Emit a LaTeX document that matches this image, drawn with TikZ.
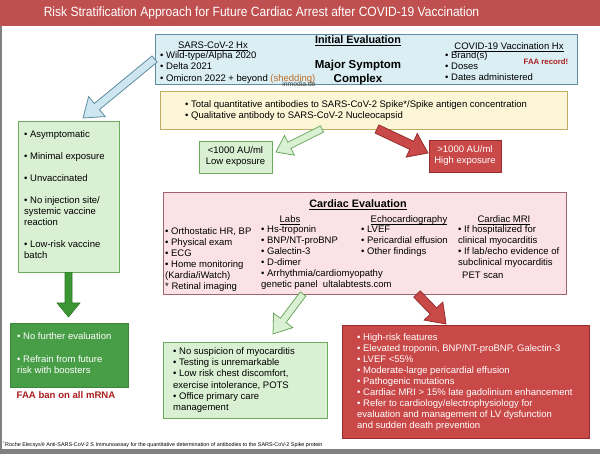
\documentclass[tikz,border=0pt]{standalone}
\usepackage{fontspec}
\setmainfont{Liberation Sans}
\newfontfamily\titlefont{Liberation Sans}[FakeStretch=0.9]
\usetikzlibrary{positioning,calc}

\definecolor{barred}{RGB}{192,80,80}
\definecolor{iefill}{RGB}{218,238,244}
\definecolor{iedraw}{RGB}{95,140,160}
\definecolor{blfill}{RGB}{205,230,240}
\definecolor{yelfill}{RGB}{252,246,214}
\definecolor{yeldraw}{RGB}{190,172,100}
\definecolor{lgfill}{RGB}{217,240,211}
\definecolor{lgdraw}{RGB}{108,170,95}
\definecolor{dgfill}{RGB}{72,158,70}
\definecolor{dgarrow}{RGB}{58,150,50}
\definecolor{rdfill}{RGB}{201,72,72}
\definecolor{rddraw}{RGB}{150,45,45}
\definecolor{pkfill}{RGB}{250,226,230}
\definecolor{pkdraw}{RGB}{160,100,110}
\definecolor{faared}{RGB}{170,30,30}
\definecolor{shedcol}{RGB}{190,110,40}
\definecolor{framegray}{RGB}{128,128,128}

% underline just under the baseline
\newcommand\hdul[1]{\setbox0\hbox{#1}\rlap{\rule[-1.6pt]{\wd0}{0.55pt}}\box0}

% fat block arrow: style, from, to, half shaft, half head, head length
\newcommand\fatarrow[6]{%
  \path[#1] let \p1=(#2), \p2=(#3), \n1={atan2(\y2-\y1,\x2-\x1)} in
    ($(\p1)+(\n1-90:#4)$) -- ($(\p2)+(\n1+180:#6)+(\n1-90:#4)$)
    -- ($(\p2)+(\n1+180:#6)+(\n1-90:#5)$) -- (\p2)
    -- ($(\p2)+(\n1+180:#6)+(\n1+90:#5)$) -- ($(\p2)+(\n1+180:#6)+(\n1+90:#4)$)
    -- ($(\p1)+(\n1+90:#4)$) -- cycle;}

\begin{document}
\begin{tikzpicture}[x=1pt, y=-1pt, font=\fontsize{9.5}{11}\selectfont]
  \tikzstyle{box} = [rectangle, draw, line width=0.8pt, inner sep=0pt];
  \tikzstyle{txt} = [inner sep=0pt, align=left, anchor=north west];
  \tikzstyle{sub} = [inner sep=0pt, anchor=base];
  \tikzstyle{head} = [sub, font=\fontsize{10.8}{12}\selectfont\bfseries];
  \tikzstyle{lgarrow} = [fill=lgfill, draw=lgdraw, line width=0.8pt];
  \tikzstyle{rdarrow} = [fill=rdfill, draw=rddraw, line width=0.8pt];
  \tikzstyle{blarrow} = [fill=blfill, draw=iedraw, line width=0.8pt];
  \tikzstyle{dgarr} = [fill=dgarrow, draw=dgarrow!80!black, line width=0.6pt];

  \useasboundingbox (0,0) rectangle (600,454);
  \fill[white] (0,0) rectangle (600,454);

  % frame and title bar
  \fill[barred] (0,0) rectangle (600,26);
  \node [inner sep=0pt, text=white, font=\titlefont\fontsize{13.4}{16}\selectfont] (title) at (261.5,13)
    {Risk Stratification Approach for Future Cardiac Arrest after COVID-19 Vaccination};
  \fill[framegray] (0,26) rectangle (1.6,450);
  \fill[framegray] (0,449) rectangle (600,454);

  % boxes
  \node [box, fill=iefill, draw=iedraw, minimum width=422pt, minimum height=50pt] (ie) at (366,59) {};
  \node [box, fill=yelfill, draw=yeldraw, minimum width=407pt, minimum height=38pt] (yel) at (363.5,110) {};
  \node [box, fill=lgfill, draw=lgdraw, minimum width=73pt, minimum height=32pt, align=center] (low) at (235.5,157) {<1000 AU/ml\\Low exposure};
  \node [box, fill=rdfill, draw=rddraw, minimum width=72pt, minimum height=32pt, align=center, text=white] (high) at (465,156) {>1000 AU/ml\\High exposure};
  \node [box, fill=lgfill, draw=lgdraw, minimum width=101pt, minimum height=151pt] (asym) at (68.5,196.5) {};
  \node [box, fill=dgfill, draw=dgfill!85!black, minimum width=118pt, minimum height=64pt] (nofur) at (69,355) {};
  \node [box, fill=pkfill, draw=pkdraw, minimum width=403pt, minimum height=102pt] (card) at (364.5,243) {};
  \node [box, fill=lgfill, draw=lgdraw, minimum width=164pt, minimum height=76pt] (nosus) at (245,380) {};
  \node [box, fill=rdfill, draw=rddraw, minimum width=247pt, minimum height=113pt] (hirisk) at (465.5,381.5) {};

  % initial evaluation
  \node [head] (iehead) at (358,44) {\hdul{Initial Evaluation}};
  \node [inner sep=0pt, align=center, font=\fontsize{11.5}{14}\selectfont\bfseries] (major) at (358,73) {Major Symptom\\Complex};
  \node [sub] (sarshx) at (213,48.5) {\hdul{SARS-CoV-2 Hx}};
  \node [txt, font=\fontsize{9.5}{11.5}\selectfont] (sarslist) at (160,51)
    {• Wild-type/Alpha 2020\\• Delta 2021\\• Omicron 2022 + beyond {\color{shedcol}(shedding)}};
  \node [inner sep=0pt, text=black!75, font=\fontsize{6.8}{7}\selectfont] (wm1) at (299,84.5) {inmodia.de};
  \node [sub] (vacchx) at (509,49.5) {\hdul{COVID-19 Vaccination Hx}};
  \node [txt] (vacclist) at (445,51.5) {• Brand(s)\\• Doses\\• Dates administered};
  \node [inner sep=0pt, text=faared, font=\fontsize{7.8}{9}\selectfont\bfseries] (faarec) at (546,62) {FAA record!};

  % antibodies
  \node [txt, font=\fontsize{9.5}{10.5}\selectfont] (ablist) at (185,100.5)
    {• Total quantitative antibodies to SARS-CoV-2 Spike*/Spike antigen concentration\\• Qualitative antibody to SARS-CoV-2 Nucleocapsid};

  % low risk column
  \node [txt] (asymlist) at (24,130.5)
    {• Asymptomatic\\[11pt]• Minimal exposure\\[11pt]• Unvaccinated\\[11pt]• No injection site/\\systemic vaccine\\reaction\\[11pt]• Low-risk vaccine\\batch};
  \node [txt, text=white] (nofurlist) at (17,332.5)
    {• No further evaluation\\[12pt]• Refrain from future\\risk with boosters};
  \node [inner sep=0pt, text=faared, font=\fontsize{9.6}{10}\selectfont\bfseries] (faaban) at (66,395) {FAA ban on all mRNA};

  % cardiac evaluation
  \node [head] (cardhead) at (358,208) {\hdul{Cardiac Evaluation}};
  \node [sub] (labs) at (290,222.5) {\hdul{Labs}};
  \node [sub] (echo) at (409,222.5) {\hdul{Echocardiography}};
  \node [sub] (mri) at (504,222.5) {\hdul{Cardiac MRI}};
  \node [txt] (clinlist) at (165,227.5)
    {• Orthostatic HR, BP\\• Physical exam\\• ECG\\• Home monitoring\\(Kardia/iWatch)\\* Retinal imaging};
  \node [txt] (labslist) at (261,225.5)
    {• Hs-troponin\\• BNP/NT-proBNP\\• Galectin-3\\• D-dimer\\• Arrhythmia/cardiomyopathy\\genetic panel\ \ ultalabtests.com};
  \node [txt] (echolist) at (361,225.5) {• LVEF\\• Pericardial effusion\\• Other findings};
  \node [txt] (mrilist) at (458,225.5)
    {• If hospitalized for\\clinical myocarditis\\• If lab/echo evidence of\\subclinical myocarditis};
  \node [txt] (pet) at (462,271.5) {PET scan};

  % outcomes
  \node [txt, font=\fontsize{9.5}{11.2}\selectfont] (nosuslist) at (173,347.5)
    {• No suspicion of myocarditis\\• Testing is unremarkable\\• Low risk chest discomfort,\\exercise intolerance, POTS\\• Office primary care\\management};
  \node [txt, text=white] (hirisklist) at (357,333.5)
    {• High-risk features\\• Elevated troponin, BNP/NT-proBNP, Galectin-3\\• LVEF <55\%\\• Moderate-large pericardial effusion\\• Pathogenic mutations\\• Cardiac MRI > 15\% late gadolinium enhancement\\• Refer to cardiology/electrophysiology for\\evaluation and management of LV dysfunction\\and sudden death prevention};

  \node [anchor=west, inner sep=0pt, font=\fontsize{5.4}{6}\selectfont] (foot) at (3,445)
    {\textsuperscript{*}Roche Elecsys® Anti-SARS-CoV-2 S Immunoassay for the quantitative determination of antibodies to the SARS-CoV-2 Spike protein};

  % arrow ends
  \coordinate (asymTip) at (83,118);
  \coordinate (yelL) at (322,129);
  \coordinate (lowTip) at (276,152);
  \coordinate (yelR) at (377,129);
  \coordinate (highTip) at (428,153);
  \coordinate (nofurTip) at (68.5,317);
  \coordinate (cardL) at (303,294);
  \coordinate (nosusTip) at (273,334);
  \coordinate (cardR) at (417,294);
  \coordinate (hiriskTip) at (446,324);

  \fatarrow{blarrow}{ie.west}{asymTip}{4pt}{13pt}{18pt}
  \fatarrow{lgarrow}{yelL}{lowTip}{3.5pt}{11pt}{15pt}
  \fatarrow{rdarrow}{yelR}{highTip}{4.5pt}{13pt}{18pt}
  \fatarrow{dgarr}{asym.south}{nofurTip}{3.5pt}{11.5pt}{14pt}
  \fatarrow{lgarrow}{cardL}{nosusTip}{3.5pt}{12pt}{17pt}
  \fatarrow{rdarrow}{cardR}{hiriskTip}{4.5pt}{13pt}{18pt}
\end{tikzpicture}
\end{document}
